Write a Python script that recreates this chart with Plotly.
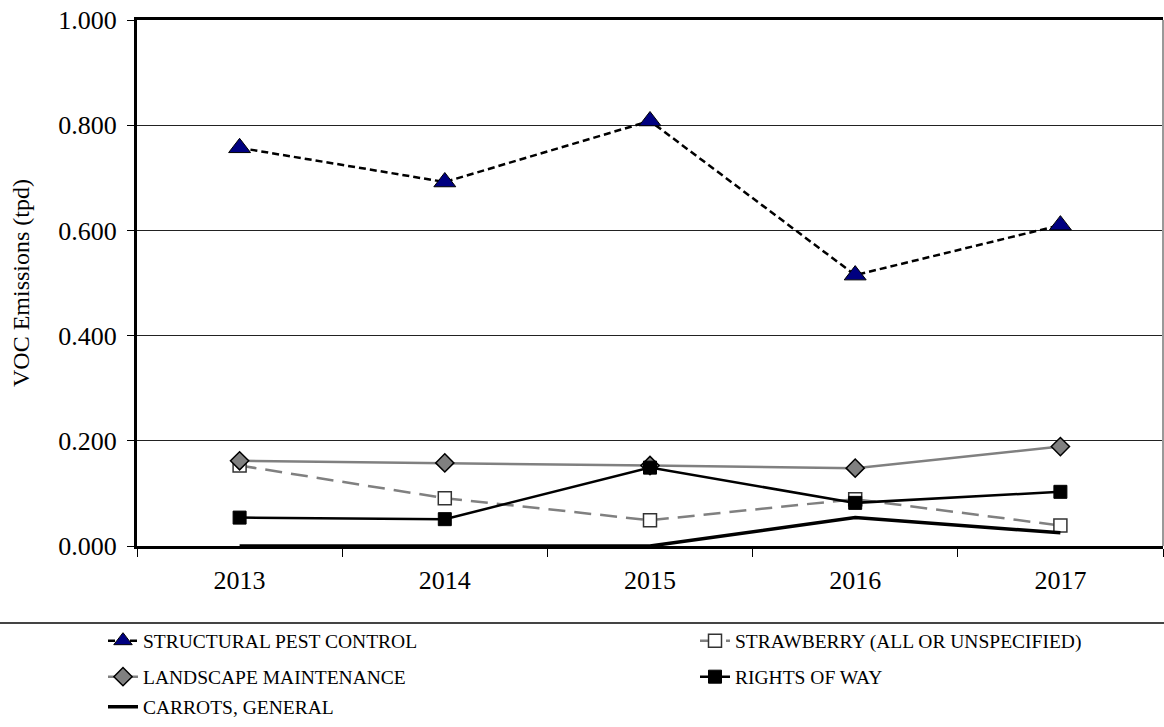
import plotly.graph_objects as go

years = ["2013", "2014", "2015", "2016", "2017"]

structural_pest_control = [0.757, 0.692, 0.808, 0.515, 0.610]
strawberry = [0.153, 0.091, 0.049, 0.089, 0.039]
landscape_maintenance = [0.162, 0.158, 0.153, 0.148, 0.189]
rights_of_way = [0.054, 0.051, 0.149, 0.082, 0.103]
carrots_general = [0.0, 0.0, 0.0, 0.054, 0.025]

y_ticks = [0.0, 0.2, 0.4, 0.6, 0.8, 1.0]

FONT = "Liberation Serif"
W, H = 1164, 727

fig = go.Figure()

fig.add_trace(go.Scatter(
    x=years, y=structural_pest_control, name="STRUCTURAL PEST CONTROL",
    mode="lines+markers", legend="legend",
    line=dict(color="black", width=2.5, dash="7px,4px"),
    marker=dict(symbol="triangle-up", size=19, color="#000080",
                line=dict(color="black", width=1)),
))
fig.add_trace(go.Scatter(
    x=years, y=strawberry, name="STRAWBERRY (ALL OR UNSPECIFIED)",
    mode="lines+markers", legend="legend2",
    line=dict(color="#808080", width=2.5, dash="17px,9px"),
    marker=dict(symbol="square", size=13, color="white",
                line=dict(color="#333333", width=1.5)),
))
fig.add_trace(go.Scatter(
    x=years, y=landscape_maintenance, name="LANDSCAPE MAINTENANCE",
    mode="lines+markers", legend="legend3",
    line=dict(color="#808080", width=2.5),
    marker=dict(symbol="diamond", size=14, color="#808080",
                line=dict(color="black", width=1.5)),
))
fig.add_trace(go.Scatter(
    x=years, y=rights_of_way, name="RIGHTS OF WAY",
    mode="lines+markers", legend="legend4",
    line=dict(color="black", width=2.5),
    marker=dict(symbol="square", size=13, color="black",
                line=dict(color="black", width=1)),
))
fig.add_trace(go.Scatter(
    x=years, y=carrots_general, name="CARROTS, GENERAL",
    mode="lines", legend="legend5",
    line=dict(color="black", width=3.5),
))

# plot area geometry in pixels
plot_l, plot_w = 137, 1026
plot_b, plot_h = 546, 526.0

# legend entries: two columns, three rows
col_px = [103, 695]
row_px = [641, 677, 707]


def legend_at(col, row):
    return dict(
        x=(col_px[col] - plot_l) / plot_w, y=-(row_px[row] - plot_b) / plot_h,
        xanchor="left", yanchor="middle",
        font=dict(family=FONT, size=19.5, color="black"),
        bgcolor="rgba(0,0,0,0)", itemclick=False, itemdoubleclick=False,
    )


fig.update_layout(
    width=W, height=H,
    margin=dict(l=137, r=1, t=20, b=181),
    paper_bgcolor="white", plot_bgcolor="white",
    font=dict(family=FONT, color="black"),
    showlegend=True,
    legend=legend_at(0, 0),
    legend2=legend_at(1, 0),
    legend3=legend_at(0, 1),
    legend4=legend_at(1, 1),
    legend5=legend_at(0, 2),
    xaxis=dict(
        type="category", range=[-0.5, 4.5],
        tickson="boundaries", ticks="outside", ticklen=8, tickwidth=1,
        tickcolor="black", ticklabelstandoff=9,
        showline=True, linecolor="black", linewidth=3, mirror=True,
        showgrid=False, zeroline=False,
        tickfont=dict(family=FONT, size=26, color="black"),
    ),
    yaxis=dict(
        range=[0, 1.0], tickvals=y_ticks, tickformat=".3f",
        ticks="outside", ticklen=7, tickwidth=1, tickcolor="black",
        ticklabelstandoff=5,
        showline=True, linecolor="black", linewidth=3,
        showgrid=True, gridcolor="#222222", gridwidth=1, zeroline=False,
        tickfont=dict(family=FONT, size=26, color="black"),
        title=dict(text="VOC Emissions (tpd)", standoff=22,
                   font=dict(family=FONT, size=24, color="black")),
    ),
    shapes=[
        # right border of the plot frame
        dict(type="line", xref="paper", yref="paper", x0=1, x1=1, y0=0, y1=1,
             line=dict(color="#999999", width=2)),
        # rule separating the legend from the chart
        dict(type="line", xref="paper", yref="paper", x0=-0.2, x1=1.05,
             y0=-77 / plot_h, y1=-77 / plot_h,
             line=dict(color="#444444", width=2)),
    ],
)

fig.write_html("out.html")
